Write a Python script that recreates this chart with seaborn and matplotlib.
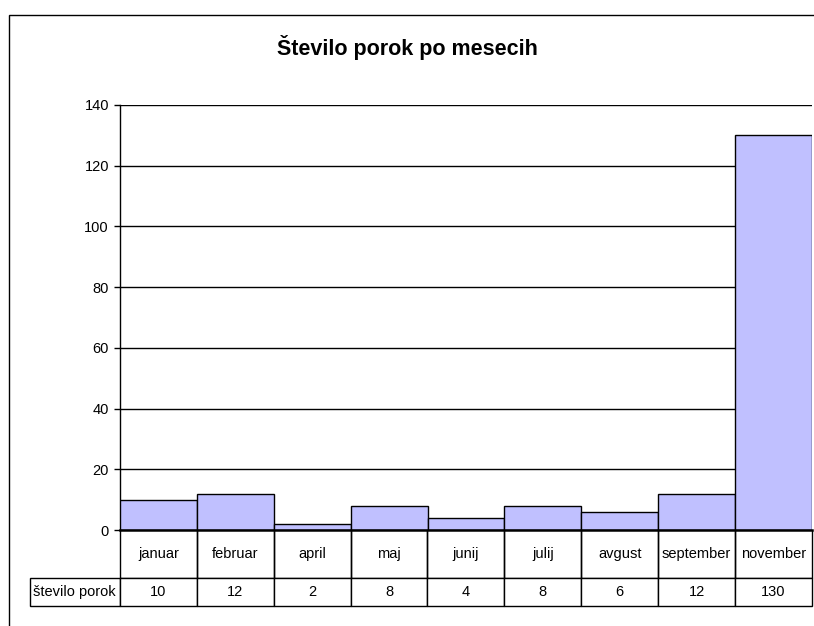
import numpy as np
import seaborn as sns
import matplotlib.pyplot as plt
import pandas as pd
from matplotlib.patches import Rectangle

sns.set_theme(style="white")
plt.rcParams['font.family'] = ['Liberation Sans', 'DejaVu Sans']
plt.rcParams['text.color'] = 'black'
plt.rcParams['ytick.color'] = 'black'

months = ['januar', 'februar', 'april', 'maj', 'junij', 'julij', 'avgust', 'september', 'november']
porok = [10, 12, 2, 8, 4, 8, 6, 12, 130]
row_label = 'število porok'

df = pd.DataFrame({'mesec': months, 'porok': porok})

W, H = 814, 626
fig = plt.figure(figsize=(W / 100, H / 100), dpi=100)

# okvir grafikona (Excel)
fig.patches.append(Rectangle((9 / W, -0.02), 1.0, 1 - 15 / H + 0.02, transform=fig.transFigure,
                             fill=False, edgecolor='black', linewidth=1.0))

ax = fig.add_axes([120 / W, 1 - 530 / H, 692 / W, 425 / H])
sns.barplot(data=df, x='mesec', y='porok', color='#C0C0FF', saturation=1, width=1.0,
            edgecolor='black', linewidth=1.0, ax=ax, zorder=3)

ax.set_ylim(0, 140)
ax.set_yticks(range(0, 141, 20))
ax.set_xlim(-0.5, len(months) - 0.5)
ax.yaxis.grid(True, color='black', linewidth=1.0)
ax.set_axisbelow(True)
ax.set_xticks([])
ax.set_xlabel('')
ax.set_ylabel('')
for s in ['top', 'right']:
    ax.spines[s].set_visible(False)
ax.spines['left'].set_color('black')
ax.spines['left'].set_linewidth(1.0)
ax.spines['bottom'].set_color('black')
ax.spines['bottom'].set_linewidth(1.8)
ax.spines['bottom'].set_zorder(5)
ax.tick_params(axis='y', left=True, length=4, width=1, color='black', labelsize=10.5, pad=4)

fig.text(0.5, 1 - 48 / H, 'Število porok po mesecih', ha='center', va='center',
         fontsize=15.5, fontweight='bold')

# podatkovna tabela pod grafom (prvi stolpec = oznaka vrstice)
cells = [[''] + months, [row_label] + [str(v) for v in porok]]
tab = ax.table(cellText=cells, cellLoc='center',
               bbox=[-90 / 692, -76 / 425, 1 + 90 / 692, 76 / 425])
tab.auto_set_font_size(False)
tab.set_fontsize(10.5)
for (r, c), cell in tab.get_celld().items():
    cell.set_edgecolor('black')
    cell.set_linewidth(1.0)
    cell.set_width(90 if c == 0 else 77)
    cell.set_height(48 if r == 0 else 28)
    cell.PAD = 0.03
    if r == 0:
        cell.visible_edges = '' if c == 0 else 'BLR'
    if r == 1 and c == 0:
        cell.get_text().set_ha('left')
        cell._loc = 'left'

fig.savefig('out.png', dpi=100)
